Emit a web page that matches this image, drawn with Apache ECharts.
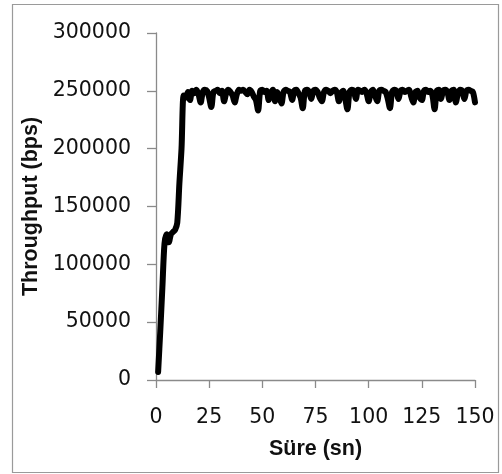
<!DOCTYPE html>
<html>
<head>
<meta charset="utf-8">
<script src="https://cdn.jsdelivr.net/npm/echarts@6/dist/echarts.min.js"></script>
<style>
html,body{margin:0;padding:0;background:#fff;}
#chart{width:502px;height:474px;}
</style>
</head>
<body>
<div id="chart"></div>
<script>
// Time (s)
var seconds = [];
for (var i = 1; i <= 150; i++) seconds.push(i);
// Throughput (bps), one value per second
var throughput = [
  7000, 42000, 80000, 118000, 126000, 119000, 126000, 128000, 130000, 136000,
  170000, 200000, 246000, 244000, 249000, 242000, 250000, 248000, 251000, 247000,
  240000, 249000, 251000, 250000, 244000, 236000, 249000, 250000, 251000, 248000,
  250000, 241000, 248000, 251000, 249000, 246000, 240000, 247000, 251000, 250000,
  251000, 249000, 247000, 251000, 249000, 245000, 242000, 233000, 250000, 251000,
  249000, 250000, 242000, 248000, 251000, 241000, 249000, 245000, 239000, 249000,
  251000, 250000, 249000, 242000, 250000, 251000, 248000, 244000, 235000, 250000,
  251000, 249000, 243000, 250000, 251000, 249000, 244000, 241000, 249000, 251000,
  250000, 248000, 250000, 251000, 249000, 241000, 248000, 250000, 243000, 234000,
  249000, 251000, 250000, 243000, 251000, 250000, 249000, 251000, 248000, 241000,
  249000, 251000, 246000, 241000, 250000, 251000, 250000, 249000, 243000, 235000,
  249000, 251000, 250000, 243000, 250000, 251000, 249000, 250000, 251000, 245000,
  240000, 249000, 250000, 244000, 242000, 250000, 251000, 249000, 250000, 246000,
  234000, 250000, 251000, 243000, 250000, 251000, 249000, 242000, 250000, 251000,
  240000, 248000, 251000, 250000, 243000, 250000, 251000, 250000, 249000, 240000
];
var xTicks = [0, 25, 50, 75, 100, 125, 150];
var yTicks = [0, 50000, 100000, 150000, 200000, 250000, 300000];
var xTitle = 'Süre (sn)';
var yTitle = 'Throughput (bps)';

var seriesData = seconds.map(function (t, i) { return [t, throughput[i]]; });

var chart = echarts.init(document.getElementById('chart'), null, {renderer: 'canvas'});
var axisCol = '#8a8a8a';
var tickFont = {fontFamily: 'DejaVu Sans', fontSize: 20.5, color: '#111'};
var titleFont = {fontFamily: 'Liberation Sans', fontSize: 21.5, fontWeight: 'bold', color: '#111'};
chart.setOption({
  animation: false,
  backgroundColor: '#fff',
  graphic: [{
    type: 'rect', shape: {x: 12.5, y: 4.5, width: 486, height: 468},
    style: {fill: null, stroke: '#9a9a9a', lineWidth: 1.2}, z: -1
  }],
  grid: {left: 156, right: 27, top: 33, bottom: 94, containLabel: false},
  xAxis: {
    type: 'value', min: xTicks[0], max: xTicks[xTicks.length - 1], interval: 25,
    name: xTitle, nameLocation: 'middle', nameGap: 58,
    nameTextStyle: titleFont,
    axisLine: {show: true, onZero: false, lineStyle: {color: axisCol, width: 1.3}},
    axisTick: {show: true, inside: false, length: 8, lineStyle: {color: axisCol, width: 1.3}},
    axisLabel: Object.assign({margin: 27, formatter: function (v) { return String(v); }}, tickFont),
    splitLine: {show: false}
  },
  yAxis: {
    type: 'value', min: yTicks[0], max: yTicks[yTicks.length - 1], interval: 50000,
    name: yTitle, nameLocation: 'middle', nameGap: 105,
    nameTextStyle: titleFont,
    axisLine: {show: true, lineStyle: {color: axisCol, width: 1.3}},
    axisTick: {show: true, inside: false, length: 9, lineStyle: {color: axisCol, width: 1.3}},
    axisLabel: Object.assign({margin: 25, formatter: function (v) { return String(v); }}, tickFont),
    splitLine: {show: false}
  },
  series: [{
    type: 'line', data: seriesData, smooth: 0.3, symbol: 'none',
    lineStyle: {color: '#000', width: 6, cap: 'round', join: 'round'}
  }]
});
</script>
</body>
</html>
